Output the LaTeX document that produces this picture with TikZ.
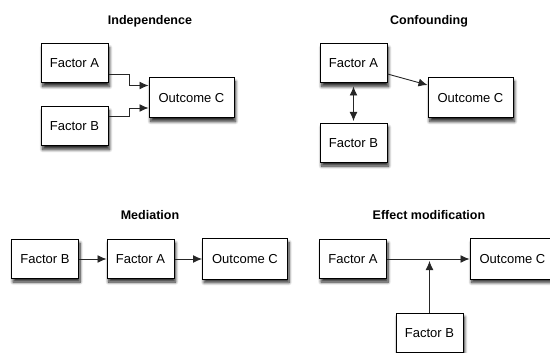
\documentclass[tikz,border=0pt]{standalone}
\usepackage{fontspec}
\setmainfont{Liberation Sans}
\usepackage{tikz}
\usetikzlibrary{arrows.meta,shadows.blur}

\tikzset{
  factor/.style={draw=black, line width=1pt, fill=white, minimum width=67pt, minimum height=39pt,
    inner sep=0pt, font=\fontsize{13}{15}\selectfont,
    blur shadow={shadow xshift=1.5pt, shadow yshift=-3.5pt, shadow blur steps=8, shadow blur radius=3pt, shadow opacity=85}},
  outcome/.style={factor, minimum width=85pt, minimum height=40pt},
  heading/.style={font=\bfseries\fontsize{12.5}{15}\selectfont},
  link/.style={draw=black!85, line width=0.9pt, -{Latex[length=9pt,width=8pt]}},
}

\begin{document}
\begin{tikzpicture}[x=1pt, y=-1pt]
\useasboundingbox (0,0) rectangle (550,353);
\clip (0,0) rectangle (550,353);
% Independence
\node[heading] (tind) at (150,21) {Independence};
\node[factor] (indA) at (74.5,63.5) {Factor A};
\node[factor] (indB) at (74.5,126.5) {Factor B};
\node[outcome] (indC) at (191.5,98) {Outcome C};
\draw[link] ([yshift=-10.5pt]indA.east) -- ++(21,0) |- ([yshift=12.5pt]indC.west);
\draw[link] ([yshift=10pt]indB.east) -- ++(21,0) |- ([yshift=-10pt]indC.west);
% Confounding
\node[heading] (tcon) at (429,21) {Confounding};
\node[factor] (conA) at (353.5,63.5) {Factor A};
\node[factor] (conB) at (353.5,143) {Factor B};
\node[outcome] (conC) at (470.5,98) {Outcome C};
\draw[link] ([yshift=-10.5pt]conA.east) -- ([yshift=13pt]conC.west);
\draw[link, {Latex[length=9pt,width=8pt]}-{Latex[length=9pt,width=8pt]}, shorten <=3pt, shorten >=2pt] (conA.south) -- (conB.north);
% Mediation
\node[heading] (tmed) at (150,215) {Mediation};
\node[factor] (medB) at (45,259) {Factor B};
\node[factor] (medA) at (140.5,259) {Factor A};
\node[outcome] (medC) at (245,259) {Outcome C};
\draw[link] (medB) -- (medA);
\draw[link] (medA) -- (medC);
% Effect modification
\node[heading] (tmod) at (429,215) {Effect modification};
\node[factor] (modA) at (353,259) {Factor A};
\node[outcome] (modC) at (512.5,259) {Outcome C};
\node[factor] (modB) at (429.5,333) {Factor B};
\coordinate (modX) at (429.5,261);
\draw[link] (modA) -- (modC);
\draw[link] (modB) -- (modX);
\end{tikzpicture}
\end{document}
